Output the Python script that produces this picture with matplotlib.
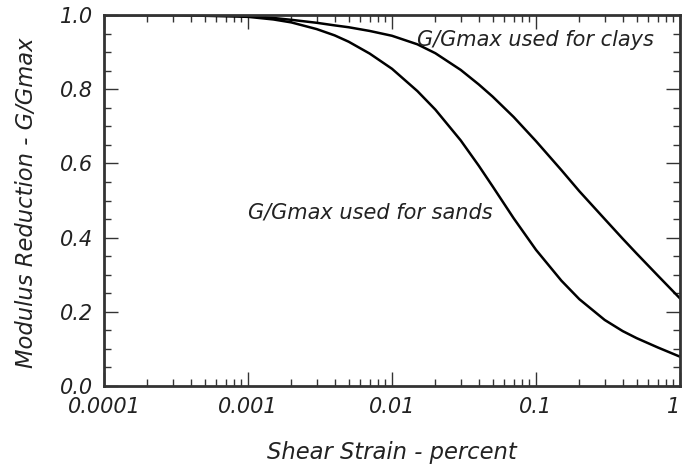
import matplotlib.pyplot as plt
from matplotlib.ticker import FixedLocator, LogLocator, NullFormatter, FixedFormatter

# shear strain (percent) and modulus reduction values
strain = [0.0001, 0.0003, 0.001, 0.0015, 0.002, 0.003, 0.004, 0.005, 0.007,
          0.01, 0.015, 0.02, 0.03, 0.04, 0.05, 0.07, 0.1, 0.15, 0.2, 0.3,
          0.4, 0.5, 0.7, 1.0]
g_sand = [1.0, 1.0, 0.995, 0.988, 0.98, 0.962, 0.945, 0.928, 0.896,
          0.855, 0.795, 0.745, 0.662, 0.594, 0.538, 0.452, 0.367, 0.284, 0.234,
          0.178, 0.148, 0.129, 0.104, 0.079]
g_clay = [1.0, 1.0, 0.998, 0.992, 0.987, 0.979, 0.972, 0.967, 0.957,
          0.944, 0.921, 0.897, 0.852, 0.813, 0.78, 0.725, 0.66, 0.582, 0.525,
          0.45, 0.397, 0.357, 0.298, 0.236]

x_ticks = [0.0001, 0.001, 0.01, 0.1, 1]
x_labels = ['0.0001', '0.001', '0.01', '0.1', '1']
y_ticks = [0.0, 0.2, 0.4, 0.6, 0.8, 1.0]
y_labels = ['0.0', '0.2', '0.4', '0.6', '0.8', '1.0']

plt.rcParams['font.family'] = ['DejaVu Sans']
txt = '#222222'
fs = 15
fs_lab = 16.3

fig = plt.figure(figsize=(6.83, 4.68), dpi=100)
ax = fig.add_axes([104 / 683, 82 / 468, 576 / 683, 371 / 468])

ax.plot(strain, g_sand, color='black', lw=1.8)
ax.plot(strain, g_clay, color='black', lw=1.8)

ax.set_xscale('log')
ax.set_xlim(0.0001, 1)
ax.set_ylim(0, 1.0)

ax.xaxis.set_major_locator(FixedLocator(x_ticks))
ax.xaxis.set_major_formatter(FixedFormatter(x_labels))
ax.xaxis.set_minor_locator(LogLocator(base=10, subs=range(2, 10)))
ax.xaxis.set_minor_formatter(NullFormatter())
ax.yaxis.set_major_locator(FixedLocator(y_ticks))
ax.yaxis.set_major_formatter(FixedFormatter(y_labels))
ax.yaxis.set_minor_locator(FixedLocator([0.05 * i for i in range(21)]))

ax.tick_params(which='both', direction='in', top=True, right=True,
               width=1.0, color='#333333')
ax.tick_params(which='major', length=10, labelsize=fs, labelcolor=txt)
ax.tick_params(which='minor', length=5)
ax.tick_params(axis='x', which='major', pad=8)
ax.tick_params(axis='y', which='major', pad=8)
for lab in ax.get_xticklabels() + ax.get_yticklabels():
    lab.set_fontstyle('italic')
# last x label sits on the figure edge, keep it inside
ax.get_xticklabels()[-1].set_horizontalalignment('right')

for s in ax.spines.values():
    s.set_linewidth(2.0)
    s.set_color('#333333')

ax.set_xlabel('Shear Strain - percent', fontsize=fs_lab, style='italic', color=txt)
ax.set_ylabel('Modulus Reduction - G/Gmax', fontsize=fs_lab, style='italic', color=txt)
ax.xaxis.set_label_coords(0.5, -0.178)
ax.yaxis.set_label_coords(-0.135, 0.493)
ax.xaxis.label.set_va('center')
ax.yaxis.label.set_va('center')

ax.text(0.0149, 0.933, 'G/Gmax used for clays', fontsize=fs, style='italic',
        color=txt, ha='left', va='center')
ax.text(0.001, 0.469, 'G/Gmax used for sands', fontsize=fs, style='italic',
        color=txt, ha='left', va='center')

fig.savefig('out.png', dpi=100)
